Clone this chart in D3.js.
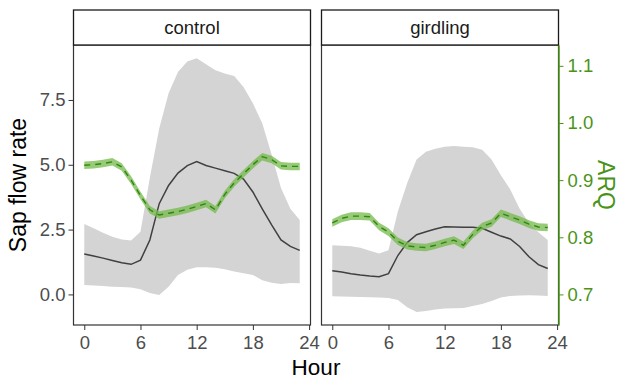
<!DOCTYPE html>
<html>
<head>
<meta charset="utf-8">
<script src="https://cdn.jsdelivr.net/npm/d3@7"></script>
<style>
  body { margin: 0; background: #fff; }
  svg { font-family: "Liberation Sans", Arial, sans-serif; }
</style>
</head>
<body>
<div id="chart"></div>
<script>
// hours 0..23
const hours = d3.range(0, 24);

// sap flow rate (mean + ribbon)
const controlMean  = [1.56, 1.48, 1.40, 1.31, 1.22, 1.16, 1.32, 2.10, 3.50, 4.20, 4.68, 4.97, 5.12, 4.97, 4.87, 4.77, 4.67, 4.45, 3.95, 3.30, 2.68, 2.10, 1.85, 1.70];
const controlUpper = [2.72, 2.55, 2.38, 2.22, 2.12, 2.08, 2.42, 4.50, 6.40, 7.76, 8.58, 8.98, 9.11, 8.88, 8.65, 8.52, 8.42, 8.00, 7.37, 6.60, 5.40, 4.10, 3.30, 2.87];
const controlLower = [0.36, 0.34, 0.32, 0.30, 0.29, 0.27, 0.20, 0.05, -0.02, 0.30, 0.75, 0.95, 1.05, 1.05, 1.03, 0.97, 0.88, 0.82, 0.75, 0.55, 0.45, 0.40, 0.44, 0.43];

const girdlingMean  = [0.91, 0.86, 0.80, 0.75, 0.71, 0.68, 0.80, 1.50, 2.00, 2.30, 2.42, 2.52, 2.61, 2.60, 2.59, 2.59, 2.55, 2.40, 2.25, 2.14, 1.85, 1.45, 1.15, 1.00];
const girdlingUpper = [1.90, 1.88, 1.86, 1.80, 1.68, 1.58, 1.70, 3.20, 4.30, 5.20, 5.50, 5.62, 5.70, 5.72, 5.70, 5.68, 5.58, 5.20, 4.60, 4.05, 3.30, 2.75, 2.40, 2.10];
const girdlingLower = [-0.07, -0.08, -0.09, -0.10, -0.11, -0.12, -0.14, -0.22, -0.50, -0.68, -0.64, -0.58, -0.54, -0.53, -0.52, -0.45, -0.37, -0.25, -0.12, -0.06, -0.04, -0.03, -0.04, -0.06];

// ARQ (secondary axis)
const controlARQ  = [0.926, 0.927, 0.929, 0.932, 0.923, 0.900, 0.873, 0.848, 0.839, 0.842, 0.845, 0.849, 0.854, 0.859, 0.848, 0.875, 0.895, 0.911, 0.927, 0.941, 0.936, 0.925, 0.924, 0.924];
const girdlingARQ = [0.825, 0.833, 0.837, 0.837, 0.836, 0.819, 0.809, 0.793, 0.785, 0.783, 0.782, 0.786, 0.791, 0.795, 0.786, 0.805, 0.819, 0.825, 0.842, 0.836, 0.830, 0.823, 0.818, 0.817];
const arqBand = 0.0066;

const panelNames = ['control', 'girdling'];
const xTicks = [0, 6, 12, 18, 24];
const yTicks = [0, 2.5, 5, 7.5];
const arqTicks = [0.7, 0.8, 0.9, 1.0, 1.1];

const width = 620, height = 380;
const panelTop = 45, panelBottom = 325, stripTop = 10;
const panelX = [[73.5, 310.5], [321.5, 558.5]];
const green = '#4a9318';

const series = [
  { mean: controlMean, upper: controlUpper, lower: controlLower, arq: controlARQ },
  { mean: girdlingMean, upper: girdlingUpper, lower: girdlingLower, arq: girdlingARQ }
];

const svg = d3.select('#chart').append('svg')
  .attr('width', width)
  .attr('height', height);

const y = d3.scaleLinear().domain([-1.18, 9.62]).range([panelBottom, panelTop]);
// ARQ = 0.7 + sap / 22.04
const yArq = d3.scaleLinear().domain([0.7 - 1.18 / 22.04, 0.7 + 9.62 / 22.04]).range([panelBottom, panelTop]);

panelNames.forEach((name, i) => {
  const [x0, x1] = panelX[i];
  const x = d3.scaleLinear().domain([-1.15, 24.15]).range([x0, x1]);
  const s = series[i];
  const g = svg.append('g');

  // grey ribbon
  g.append('path')
    .datum(hours)
    .attr('fill', '#d4d4d4')
    .attr('d', d3.area()
      .x(h => x(h))
      .y0(h => y(s.lower[h]))
      .y1(h => y(s.upper[h])));

  // mean sap flow
  g.append('path')
    .datum(hours)
    .attr('fill', 'none')
    .attr('stroke', '#404040')
    .attr('stroke-width', 1.5)
    .attr('d', d3.line().x(h => x(h)).y(h => y(s.mean[h])));

  // ARQ band + dashed line
  g.append('path')
    .datum(hours)
    .attr('fill', '#74b94a')
    .attr('fill-opacity', 0.75)
    .attr('d', d3.area()
      .x(h => x(h))
      .y0(h => yArq(s.arq[h] - arqBand))
      .y1(h => yArq(s.arq[h] + arqBand)));

  g.append('path')
    .datum(hours)
    .attr('fill', 'none')
    .attr('stroke', '#2f8612')
    .attr('stroke-width', 1.4)
    .attr('stroke-dasharray', '6,5')
    .attr('d', d3.line().x(h => x(h)).y(h => yArq(s.arq[h])));

  // panel border
  g.append('rect')
    .attr('x', x0).attr('y', panelTop)
    .attr('width', x1 - x0).attr('height', panelBottom - panelTop)
    .attr('fill', 'none')
    .attr('stroke', '#333')
    .attr('stroke-width', 1.2);

  // strip
  g.append('rect')
    .attr('x', x0).attr('y', stripTop)
    .attr('width', x1 - x0).attr('height', panelTop - stripTop)
    .attr('fill', '#fff')
    .attr('stroke', '#1a1a1a')
    .attr('stroke-width', 1.3);
  g.append('text')
    .attr('x', (x0 + x1) / 2).attr('y', 34)
    .attr('text-anchor', 'middle')
    .attr('font-size', 18.5)
    .attr('fill', '#1a1a1a')
    .text(name);

  // x axis
  const xAxis = g.append('g')
    .attr('transform', `translate(0,${panelBottom})`)
    .call(d3.axisBottom(x).tickValues(xTicks).tickSize(5).tickSizeOuter(0).tickPadding(6));
  xAxis.select('.domain').remove();
  xAxis.selectAll('line').attr('stroke', '#333');
  xAxis.selectAll('text')
    .attr('font-size', 18.5)
    .attr('fill', '#4d4d4d')
    .attr('font-family', '"Liberation Sans", Arial, sans-serif');
});

// left y axis
const yAxis = svg.append('g')
  .attr('transform', `translate(${panelX[0][0]},0)`)
  .call(d3.axisLeft(y).tickValues(yTicks).tickFormat(d3.format('.1f')).tickSize(5).tickSizeOuter(0).tickPadding(3));
yAxis.select('.domain').remove();
yAxis.selectAll('line').attr('stroke', '#333');
yAxis.selectAll('text')
  .attr('font-size', 18.5)
  .attr('fill', '#4d4d4d')
  .attr('font-family', '"Liberation Sans", Arial, sans-serif');

// right ARQ axis
const arqAxis = svg.append('g')
  .attr('transform', `translate(${panelX[1][1]},0)`)
  .call(d3.axisRight(yArq).tickValues(arqTicks).tickFormat(d3.format('.1f')).tickSize(5).tickSizeOuter(0).tickPadding(4));
arqAxis.select('.domain').attr('stroke', green).attr('stroke-width', 1.5);
arqAxis.selectAll('line').attr('stroke', green);
arqAxis.selectAll('text')
  .attr('font-size', 18.5)
  .attr('fill', green)
  .attr('font-family', '"Liberation Sans", Arial, sans-serif');

// axis titles
svg.append('text')
  .attr('x', (panelX[0][0] + panelX[1][1]) / 2).attr('y', 375)
  .attr('text-anchor', 'middle')
  .attr('font-size', 22.5)
  .text('Hour');

svg.append('text')
  .attr('transform', `translate(26,${(panelTop + panelBottom) / 2}) rotate(-90)`)
  .attr('text-anchor', 'middle')
  .attr('font-size', 23)
  .text('Sap flow rate');

svg.append('text')
  .attr('transform', `translate(598,${(panelTop + panelBottom) / 2}) rotate(90)`)
  .attr('text-anchor', 'middle')
  .attr('font-size', 23)
  .attr('fill', green)
  .text('ARQ');
</script>
</body>
</html>
